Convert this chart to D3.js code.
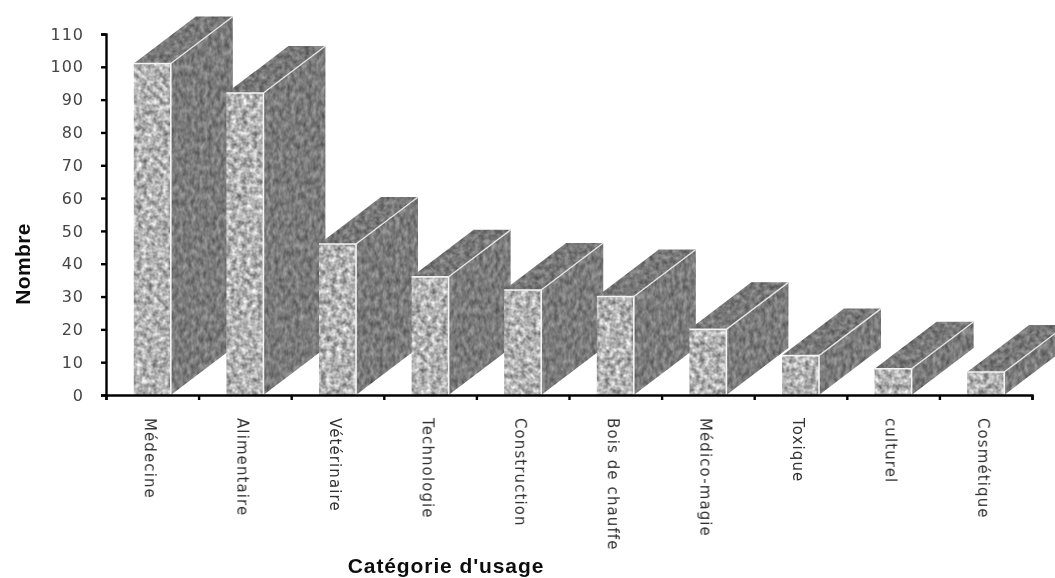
<!DOCTYPE html>
<html><head><meta charset="utf-8">
<script src="https://cdn.jsdelivr.net/npm/d3@7/dist/d3.min.js"></script>
<style>html,body{margin:0;padding:0;background:#fff;overflow:hidden}svg{display:block}</style></head>
<body><div id="chart"></div>
<script>
const categories = ["Médecine","Alimentaire","Vétérinaire","Technologie","Construction","Bois de chauffe","Médico-magie","Toxique","culturel","Cosmétique"];
const values = [101,92,46,36,32,30,20,12,8,7];
const yTicks = [0,10,20,30,40,50,60,70,80,90,100,110];
const W=1055,H=578, depthX=62, depthY=47;
const svg=d3.select("#chart").append("svg").attr("width",W).attr("height",H);
const x=d3.scaleBand().domain(categories).range([106,1032]).paddingInner(.6).paddingOuter(.3);
const y=d3.scaleLinear().domain([0,110]).range([395,34]);
const defs=svg.append("defs");
function granite(id,freq,seed,slope,off,blur){
  const f=defs.append("filter").attr("id",id).attr("filterUnits","userSpaceOnUse")
    .attr("x",0).attr("y",0).attr("width",W).attr("height",H).attr("color-interpolation-filters","sRGB");
  f.append("feTurbulence").attr("type","fractalNoise").attr("baseFrequency",freq).attr("numOctaves",2).attr("seed",seed).attr("result","n");
  f.append("feColorMatrix").attr("in","n").attr("type","matrix")
    .attr("values",`${slope} 0 0 0 ${off}  ${slope} 0 0 0 ${off}  ${slope} 0 0 0 ${off}  0 0 0 0 1`).attr("result","g");
  f.append("feGaussianBlur").attr("in","g").attr("stdDeviation",blur).attr("result","b");
  f.append("feComposite").attr("in","b").attr("in2","SourceAlpha").attr("operator","in");
}
granite("gFront",.19,3,.8,.3,.7);
granite("gSide","0.24 0.14",8,.42,.27,.6);
granite("gTop",.2,5,.42,.26,.6);
const soft=defs.append("filter").attr("id","soft").attr("x","-5%").attr("y","-5%").attr("width","110%").attr("height","110%");
soft.append("feGaussianBlur").attr("stdDeviation",.45);
const bars=svg.append("g").selectAll("g").data(categories.map((c,i)=>({c,v:values[i]}))).join("g");
const pts=a=>a.map(p=>p.join(",")).join(" ");
bars.append("polygon").attr("filter","url(#gSide)").attr("points",d=>{const r=x(d.c)+x.bandwidth(),t=y(d.v),b=y(0);return pts([[r,t],[r+depthX,t-depthY],[r+depthX,b-depthY],[r,b]]);});
bars.append("polygon").attr("filter","url(#gTop)").attr("points",d=>{const l=x(d.c),r=l+x.bandwidth(),t=y(d.v);return pts([[l,t],[l+depthX,t-depthY],[r+depthX,t-depthY],[r,t]]);});
bars.append("rect").attr("filter","url(#gFront)").attr("x",d=>x(d.c)).attr("y",d=>y(d.v)).attr("width",x.bandwidth()).attr("height",d=>y(0)-y(d.v));
bars.append("polyline").attr("fill","none").attr("stroke","#f4f4f4").attr("stroke-width",1.6)
  .attr("points",d=>{const l=x(d.c),r=l+x.bandwidth(),t=y(d.v),b=y(0);return pts([[l,t],[r,t],[r,b]]);});
bars.append("line").attr("stroke","#e6e6e6").attr("stroke-width",1.3)
  .attr("x1",d=>x(d.c)+x.bandwidth()).attr("y1",d=>y(d.v))
  .attr("x2",d=>x(d.c)+x.bandwidth()+depthX).attr("y2",d=>y(d.v)-depthY);
// axes
const yAxis=d3.axisLeft(y).tickValues(yTicks).tickSize(5).tickPadding(17);
const gy=svg.append("g").attr("transform","translate(106,0)").call(yAxis);
gy.selectAll("text").attr("font-family","DejaVu Sans").attr("font-size",16).attr("letter-spacing",1).attr("fill","#444").attr("filter","url(#soft)");
const xAxis=d3.axisBottom(d3.scaleLinear().domain([0,10]).range([106,1032])).ticks(10).tickSize(5).tickFormat("");
const gx=svg.append("g").attr("transform","translate(0,395)").call(xAxis);
[gy,gx].forEach(g=>{g.selectAll("path").attr("stroke","#000").attr("stroke-width",2.4);g.selectAll("line").attr("stroke","#000").attr("stroke-width",2.4);});
svg.append("g").selectAll("text").data(categories).join("text")
  .attr("transform",c=>`translate(${x(c)+x.bandwidth()/2-7.5},418) rotate(90)`)
  .attr("font-family","DejaVu Sans").attr("font-size",15).attr("letter-spacing",1.1).attr("fill","#333").attr("filter","url(#soft)").text(c=>c);
svg.append("text").attr("transform","translate(30,264) rotate(-90)").attr("text-anchor","middle")
  .attr("font-family","Liberation Sans").attr("font-weight","bold").attr("font-size",21).attr("letter-spacing",.4).attr("fill","#111").attr("filter","url(#soft)").text("Nombre");
svg.append("text").attr("x",446).attr("y",573).attr("text-anchor","middle")
  .attr("font-family","Liberation Sans").attr("font-weight","bold").attr("font-size",21).attr("letter-spacing",.9).attr("fill","#111").attr("filter","url(#soft)").text("Catégorie d'usage");
</script></body></html>
